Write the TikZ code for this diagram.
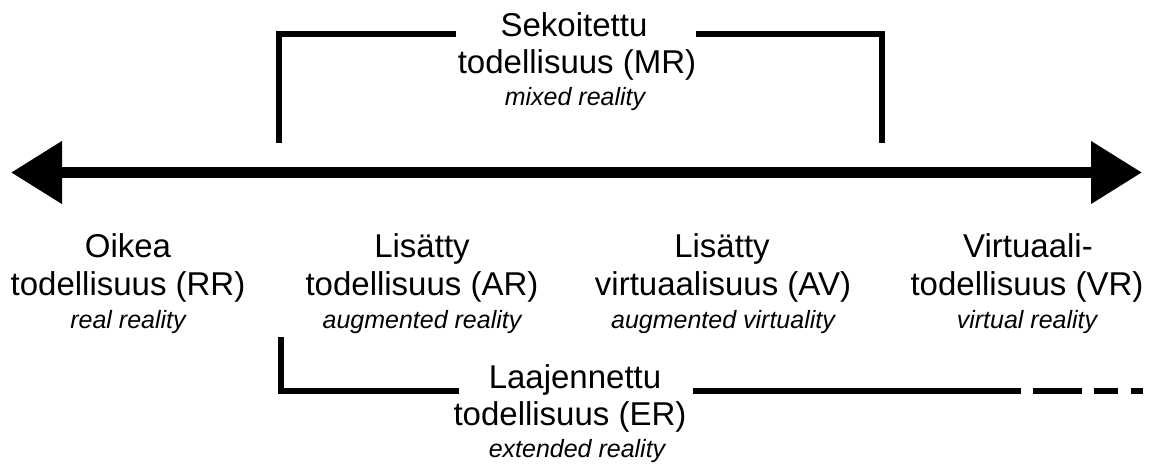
\documentclass[tikz,border=0pt]{standalone}
\usepackage{fontspec}
\setmainfont{Liberation Sans}
\usetikzlibrary{arrows.meta}
\tikzset{
  big/.style={anchor=base, inner sep=0pt, font=\fontsize{33}{37}\selectfont},
  small/.style={anchor=base, inner sep=0pt, font=\fontsize{25}{29}\selectfont\itshape},
  bracket/.style={line width=6pt, line join=miter, line cap=butt},
  axis/.style={line width=11pt, {Triangle[length=51pt,width=60pt]}-{Triangle[length=51pt,width=60pt]}}
}
\begin{document}
\begin{tikzpicture}[x=1pt,y=-1pt]
\useasboundingbox (0,0) rectangle (1155,470);
% main axis
\coordinate (lt) at (11,172.5);
\coordinate (rt) at (1142,172.5);
\draw[axis] (lt) -- (rt);
% MR bracket
\coordinate (mr1) at (278.5,143);
\coordinate (mr2) at (278.5,34.5);
\coordinate (mr3) at (455.7,34.5);
\coordinate (mr4) at (696,34.5);
\coordinate (mr5) at (882,34.5);
\coordinate (mr6) at (882,143);
\draw[bracket] (mr1) -- (mr2) -- (mr3);
\draw[bracket] (mr4) -- (mr5) -- (mr6);
% ER bracket
\coordinate (er1) at (281,337);
\coordinate (er2) at (281,391);
\coordinate (er3) at (459,391);
\coordinate (er4) at (692.7,391);
\coordinate (er5) at (1021,391);
\coordinate (er6) at (1033,391);
\coordinate (er7) at (1082,391);
\coordinate (er8) at (1094,391);
\coordinate (er9) at (1118,391);
\coordinate (er10) at (1131,391);
\coordinate (er11) at (1143,391);
\draw[bracket] (er1) -- (er2) -- (er3);
\draw[bracket] (er4) -- (er5);
\draw[bracket] (er6) -- (er7);
\draw[bracket] (er8) -- (er9);
\draw[bracket] (er10) -- (er11);
% MR text
\node[big] (mra) at (574,36.7) {Sekoitettu};
\node[big] (mrb) at (577,74) {todellisuus (MR)};
\node[small] (mrc) at (575,106) {mixed reality};
% RR
\node[big] (rra) at (128,258) {Oikea};
\node[big] (rrb) at (128,295) {todellisuus (RR)};
\node[small] (rrc) at (128,328) {real reality};
% AR
\node[big] (ara) at (422,258) {Lisätty};
\node[big] (arb) at (422,295) {todellisuus (AR)};
\node[small] (arc) at (422,328) {augmented reality};
% AV
\node[big] (ava) at (722,258) {Lisätty};
\node[big] (avb) at (723,295) {virtuaalisuus (AV)};
\node[small] (avc) at (723,328) {augmented virtuality};
% VR
\node[big] (vra) at (1028,258) {Virtuaali-};
\node[big] (vrb) at (1027,295) {todellisuus (VR)};
\node[small] (vrc) at (1027,328) {virtual reality};
% ER
\node[big] (era) at (575,388) {Laajennettu};
\node[big] (erb) at (570,425) {todellisuus (ER)};
\node[small] (erc) at (577,457) {extended reality};
\end{tikzpicture}
\end{document}
